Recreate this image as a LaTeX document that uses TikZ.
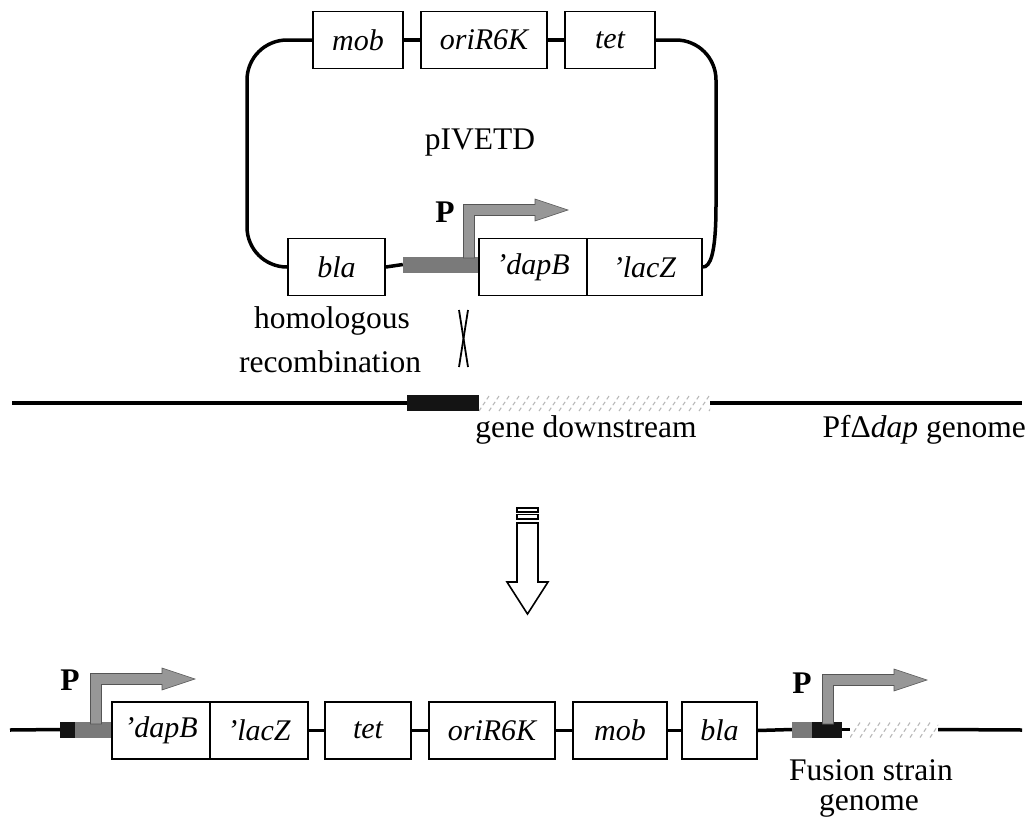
\documentclass[tikz,border=0pt]{standalone}
\usepackage{fontspec}
\setmainfont{Liberation Serif}
\definecolor{promgray}{HTML}{979797}
\definecolor{promedge}{HTML}{555555}
\definecolor{bargray}{HTML}{7A7A7A}
\definecolor{bardark}{HTML}{141414}
\begin{document}
\begin{tikzpicture}[x=1pt,y=-1pt,
  gene/.style={draw, line width=1.8pt, fill=white, inner sep=0pt,
    minimum height=57pt, font=\fontsize{30}{36}\selectfont\itshape},
  txt/.style={inner sep=0pt, font=\fontsize{31.5}{38}\selectfont},
  plabel/.style={inner sep=0pt, font=\fontsize{31.5}{38}\selectfont\bfseries},
  bb/.style={line width=3.5pt},
  graybar/.style={fill=bargray, inner sep=0pt, minimum height=16pt},
  darkbar/.style={fill=bardark, inner sep=0pt, minimum height=16pt},
  hatch/.style={inner sep=0pt, minimum height=16pt,
    path picture={\foreach \i in {0,...,30}{
      \draw[gray!55, line width=1.1pt, dash pattern=on 4pt off 3pt]
        ([xshift=\i*10pt]path picture bounding box.south west) -- ++(10pt,15pt);}}},
  pics/promoter/.style={code={
    \filldraw[fill=promgray, draw=promedge, line width=0.6pt]
      (-5.5,0) -- (-5.5,-#1-5.5) -- (66,-#1-5.5) -- (66,-#1-11) -- (99,-#1)
      -- (66,-#1+11) -- (66,-#1+5.5) -- (5.5,-#1+5.5) -- (5.5,0) -- cycle;}}
]
\useasboundingbox (0,0) rectangle (1034,825);

% ---------------- plasmid pIVETD ----------------
\node[gene, minimum width=90pt]  (mob) at (358,40) {mob};
\node[gene, minimum width=126pt] (ori) at (484,40) {oriR6K};
\node[gene, minimum width=90pt]  (tet) at (610,40) {tet};

\node[gene, minimum width=97pt]  (bla)  at (336.5,267) {bla};
\node[graybar, minimum width=76pt] (pbar) at (441,264.5) {};
\node[gene, minimum width=108pt] (dapB) at (533,267) {'dapB};
\node[gene, minimum width=115pt] (lacZ) at (644.5,267) {'lacZ};

\coordinate (lt1) at (247,40);
\coordinate (lt2) at (247,267);
\coordinate (rt1) at (716,40);
\coordinate (rt2) at (716,205);

\draw[bb, rounded corners=40pt] (mob.west) -- (lt1) -- (lt2) -- (bla.west);
\draw[bb, rounded corners=40pt] (tet.east) -- (rt1) -- (rt2);
\draw[bb] (rt2) .. controls (716,255) and (710,267) .. (lacZ.east);
\draw[bb] (mob.east) -- (ori.west);
\draw[bb] (ori.east) -- (tet.west);
\draw[bb] (bla.east) -- (pbar.west);

\pic at (469,258) {promoter=48};
\node[plabel] (p1) at (445,212) {P};

\node[txt] (pname) at (480,143) {pIVETD};

\node[txt] (hom) at (332,321) {homologous};
\node[txt] (rec) at (330,362) {recombination};
\draw[line width=1.8pt] (459,310) -- (468,367);
\draw[line width=1.8pt] (468,310) -- (459,367);

% ---------------- chromosome ----------------
\coordinate (g1l) at (12,403);
\coordinate (g1r) at (1022,403);
\node[darkbar, minimum width=72pt] (kb1) at (443,403) {};
\node[hatch, minimum width=231pt] (hz1) at (594.5,403) {};
\draw[bb] (g1l) -- (kb1.west);
\draw[bb] (hz1.east) -- (g1r);
\node[txt] (gd) at (586,430) {gene downstream};
\node[txt, anchor=east] (pf) at (1026,430) {PfΔ\textit{dap} genome};

% ---------------- integration arrow ----------------
\draw[line width=1.2pt] (517,508) rectangle (538,512);
\draw[line width=1.2pt] (517,514.5) rectangle (538,519);
\draw[line width=1.6pt, line join=miter] (517,523) -- (538,523) -- (538,582) -- (548,582)
  -- (527.5,614) -- (507,582) -- (517,582) -- cycle;

% ---------------- fusion strain ----------------
\coordinate (g2l) at (10,730);
\coordinate (g2r) at (1022,730);
\node[darkbar, minimum width=15pt] (kb2) at (67.5,729.5) {};
\node[graybar, minimum width=37pt] (gb2) at (93.5,729.5) {};
\node[gene, minimum width=98pt]  (dapB2) at (161,730.5) {'dapB};
\node[gene, minimum width=98pt]  (lacZ2) at (259,730.5) {'lacZ};
\node[gene, minimum width=86pt]  (tet2)  at (368,730.5) {tet};
\node[gene, minimum width=126pt] (ori2)  at (492,730.5) {oriR6K};
\node[gene, minimum width=94pt]  (mob2)  at (620,730.5) {mob};
\node[gene, minimum width=75pt]  (bla2)  at (719.5,730.5) {bla};
\node[graybar, minimum width=20pt] (gb3) at (802,729.5) {};
\node[darkbar, minimum width=30pt] (kb3) at (827,729.5) {};
\node[hatch, minimum width=88pt] (hz3) at (894,729.5) {};

\draw[bb] (g2l) -- (kb2.west);
\draw[bb] (lacZ2.east) -- (tet2.west);
\draw[bb] (tet2.east) -- (ori2.west);
\draw[bb] (ori2.east) -- (mob2.west);
\draw[bb] (mob2.east) -- (bla2.west);
\draw[bb] (bla2.east) -- (gb3.west);
\draw[bb] (kb3.east) -- (hz3.west);
\draw[bb] (hz3.east) -- (g2r);

\pic at (96,724) {promoter=45};
\node[plabel] (p2) at (70,680) {P};
\pic at (828,724) {promoter=44};
\node[plabel] (p3) at (802,683) {P};

\node[txt] (fs) at (871,770) {Fusion strain};
\node[txt] (fg) at (869,806) {genome};
\end{tikzpicture}
\end{document}
